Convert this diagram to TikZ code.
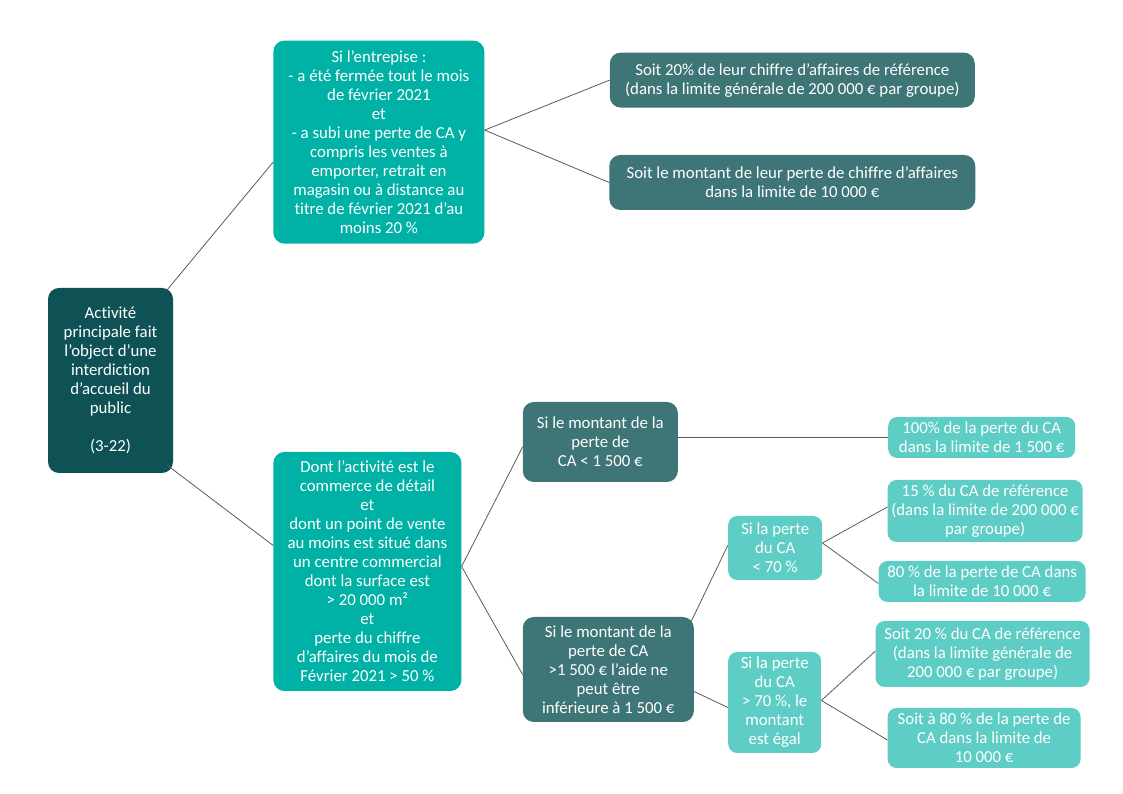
\documentclass[tikz,border=0pt]{standalone}
\usepackage{fontspec}
\setmainfont[Ligatures=NoCommon]{Carlito}
\usetikzlibrary{positioning}
\definecolor{darkteal}{HTML}{0F5256}
\definecolor{boxteal}{HTML}{00B1A5}
\definecolor{midteal}{HTML}{3E7576}
\definecolor{lightteal}{HTML}{5ECDC5}
\definecolor{linkgray}{HTML}{5A5A5A}

\begin{document}
\begin{tikzpicture}[x=1pt,y=1pt,
    box/.style={rounded corners=11pt, text=white, align=center, inner sep=2pt,
        font={\fontsize{16.8}{19}\selectfont}},
    dark/.style={box, fill=darkteal},
    main/.style={box, fill=boxteal},
    mid/.style={box, fill=midteal},
    light/.style={box, fill=lightteal, rounded corners=9pt},
    link/.style={draw=linkgray, line width=0.8pt}]
    \useasboundingbox (0,0) rectangle (1123,794);
                \node [dark, minimum width=125pt, minimum height=185pt] (act) at (110.5,413.5)
                    {Activité\\principale fait\\l’object d’une\\interdiction\\d’accueil du\\public\\\mbox{}\\(3-22)};
                \node [main, minimum width=211pt, minimum height=203pt, above right=44pt and 100pt of act] (fer)
                    {Si l’entrepise :\\- a été fermée tout le mois\\de février 2021\\et\\- a subi une perte de CA y\\compris les ventes à\\emporter, retrait en\\magasin ou à distance au\\titre de février 2021 d’au\\moins 20~\%};
                \node [main, minimum width=188pt, minimum height=239pt, right=100pt of act, yshift=-191pt] (com)
                    {Dont l’activité est le\\commerce de détail\\et\\dont un point de vente\\au moins est situé dans\\un centre commercial\\dont la surface est\\> 20~000~m²\\et\\perte du chiffre\\d’affaires du mois de\\Février 2021 > 50~\%};
                \node [mid, minimum width=365pt, minimum height=55pt, right=125pt of fer, yshift=62pt] (p20)
                    {Soit 20\% de leur chiffre d’affaires de référence\\(dans la limite générale de 200~000~€ par groupe)};
                \node [mid, minimum width=366pt, minimum height=55pt, below=47pt of p20] (p10)
                    {Soit le montant de leur perte de chiffre d’affaires\\dans la limite de 10~000~€};
                \node [mid, minimum width=155pt, minimum height=80pt, right=61pt of com, yshift=129.5pt] (m1)
                    {Si le montant de la\\perte de\\CA < 1~500~€};
                \node [mid, minimum width=171pt, minimum height=105pt, right=61pt of com, yshift=-98pt] (m2)
                    {Si le montant de la\\perte de CA\\>1~500~€ l’aide ne\\peut être\\inférieure à 1~500~€};
                \node [light, minimum width=187pt, minimum height=41pt, right=210pt of m1, yshift=4.5pt] (p100)
                    {100\% de la perte du CA\\dans la limite de 1~500~€};
                \node [light, minimum width=94pt, minimum height=64pt, right=34pt of m2, yshift=121.5pt] (s1)
                    {Si la perte\\du CA\\< 70~\%};
                \node [light, minimum width=93pt, minimum height=101pt, right=34pt of m2, yshift=-33pt] (s2)
                    {Si la perte\\du CA\\> 70~\%, le\\montant\\est égal};
                \node [light, minimum width=195pt, minimum height=62pt, right=65pt of s1, yshift=37pt] (t15)
                    {15~\% du CA de référence\\(dans la limite de 200~000~€\\par groupe)};
                \node [light, minimum width=207pt, minimum height=41pt, right=56pt of s1, yshift=-33.5pt] (t80)
                    {80~\% de la perte de CA dans\\la limite de 10~000~€};
                \node [light, minimum width=214pt, minimum height=66pt, right=54pt of s2, yshift=48.5pt] (u20)
                    {Soit 20~\% du CA de référence\\(dans la limite générale de\\200~000~€ par groupe)};
                \node [light, minimum width=193pt, minimum height=60pt, right=66pt of s2, yshift=-35.5pt] (u80)
                    {Soit à 80~\% de la perte de\\CA dans la limite de\\10~000~€};

                \draw [link] ([xshift=-6pt,yshift=-2pt]act.north east) -- ([yshift=-20pt]fer.west)
                    ([xshift=-6pt,yshift=8pt]act.south east) -- ([yshift=26pt]com.west)
                    ([yshift=12pt]fer.east) -- (p20.west)
                    ([yshift=12pt]fer.east) -- (p10.west)
                    ([yshift=5pt]com.east) -- ([yshift=-5pt]m1.west)
                    ([yshift=5pt]com.east) -- ([yshift=-5pt]m2.west)
                    (p100.west -| m1.east) -- (p100.west)
                    ([xshift=-3pt,yshift=-5pt]m2.north east) -- ([yshift=3pt]s1.west)
                    ([yshift=-22pt]m2.east) -- ([yshift=-5pt]s2.west)
                    ([yshift=5pt]s1.east) -- ([yshift=4pt]t15.west)
                    ([yshift=5pt]s1.east) -- ([yshift=-2pt]t80.west)
                    ([yshift=2pt]s2.east) -- ([yshift=3pt]u20.west)
                    ([yshift=2pt]s2.east) -- ([yshift=-2pt]u80.west);
    \end{tikzpicture}
\end{document}
